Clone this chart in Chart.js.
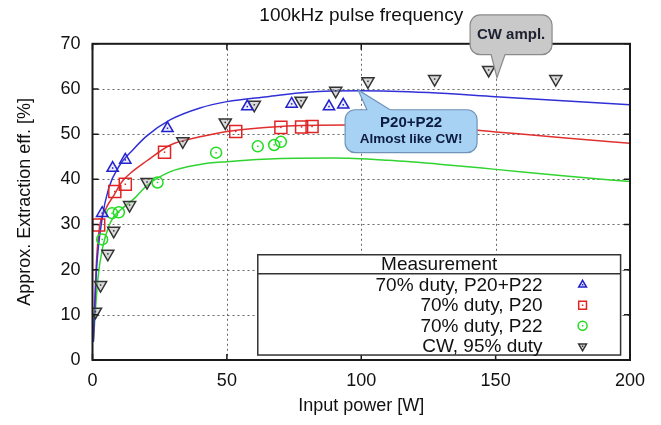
<!DOCTYPE html>
<html>
<head>
<meta charset="utf-8">
<script src="https://cdn.jsdelivr.net/npm/chart.js@4.4.0/dist/chart.umd.min.js"></script>
<style>
  html, body { margin: 0; padding: 0; background: #ffffff; }
</style>
</head>
<body>
<canvas id="effChart" width="661" height="425"></canvas>
<script>
// measured points
const p2022X = [3.6, 7.5, 12.2, 27.9, 57.6, 74.1, 88, 93.3];
const p2022Y = [32.5, 42.5, 44.3, 51.3, 56.1, 56.7, 56.1, 56.5];
const p20X = [2.3, 8.3, 12.2, 26.8, 53.3, 70.1, 77.8, 81.7];
const p20Y = [29.9, 37.3, 38.9, 46, 50.6, 51.5, 51.6, 51.7];
const p22X = [3.6, 7.3, 9.8, 24.2, 46, 61.5, 67.6, 70.1];
const p22Y = [26.7, 32.5, 32.7, 39.3, 45.9, 47.3, 47.6, 48.3];
const cwX = [1.1, 3, 5.7, 7.9, 13.8, 20.3, 33.6, 49.4, 60.2, 77.6, 90.5, 102.5, 127.3, 147.4, 172.4];
const cwY = [10.7, 16.6, 23.5, 28.6, 34.3, 39.4, 48.4, 52.6, 56.5, 57.4, 59.6, 61.7, 62.2, 64.2, 62.2];

// fitted curves
const fit2022X = [0.3, 1.5, 3.5, 6, 10, 15, 20, 29, 40, 50, 65, 80, 100, 125, 150, 175, 200];
const fit2022Y = [4, 20, 31, 38, 43, 46.5, 49.5, 53.2, 55.8, 57.2, 58.3, 59.3, 59.6, 59.2, 58.3, 57.4, 56.5];
const fit20X = [0.3, 1.5, 2.5, 5, 8, 11, 15, 20, 29, 40, 50, 70, 95, 125, 150, 175, 200];
const fit20Y = [4, 22, 29, 33.5, 36.5, 39.5, 41.8, 44, 47.6, 49.4, 50.6, 51.7, 52, 51.8, 50.5, 49.2, 48];
const fit22X = [0.3, 2, 4, 6, 8, 12, 16, 20, 29, 40, 50, 70, 90, 110, 130, 150, 175, 200];
const fit22Y = [4, 18, 25.5, 29.5, 31.8, 34, 36, 38.5, 41.7, 43.3, 43.9, 44.6, 44.7, 44.2, 43.3, 42.2, 40.8, 39.5];

const xTicks = [0, 50, 100, 150, 200];
const yTicks = [0, 10, 20, 30, 40, 50, 60, 70];

const toPts = (xs, ys) => xs.map((x, i) => ({x: x, y: ys[i]}));

// speech bubbles, in data units
const callouts = [
    {lines: ['P20+P22', 'Almost like CW!'], fonts: ['bold 15px "Liberation Sans"', 'bold 13.5px "Liberation Sans"'],
     l: 94, r: 143.1, t: 55.4, b: 45.9, tip: [98.8, 59.8], base: [102.1, 110.7], edge: 'top',
     fill: '#a8d2f4', stroke: '#6f93b8', color: '#0c1c40'},
    {lines: ['CW ampl.'], fonts: ['bold 15px "Liberation Sans"'],
     l: 140.5, r: 171, t: 76.4, b: 67.6, tip: [150.5, 62.5], base: [148.3, 153.5], edge: 'bottom',
     fill: '#c9c9c9', stroke: '#8a8a8a', color: '#1c2030'}
];

const lineDs = (label, xs, ys, color) => ({
    label: label,
    data: toPts(xs, ys),
    showLine: true,
    borderColor: color,
    borderWidth: 1.5,
    pointRadius: 0,
    cubicInterpolationMode: 'monotone',
    order: 2,
    isFit: true
});

const markDs = (label, xs, ys, color, style, radius, rot, fill) => ({
    label: label,
    data: toPts(xs, ys),
    showLine: false,
    borderColor: color,
    backgroundColor: fill,
    pointBorderWidth: 1.5,
    pointStyle: style,
    pointRadius: radius,
    pointRotation: rot,
    order: 1
});

function bubblePath(ctx, c, xs, ys) {
    const l = xs.getPixelForValue(c.l), r = xs.getPixelForValue(c.r);
    const t = ys.getPixelForValue(c.t), b = ys.getPixelForValue(c.b);
    const tx = xs.getPixelForValue(c.tip[0]), ty = ys.getPixelForValue(c.tip[1]);
    const b1 = xs.getPixelForValue(c.base[0]), b2 = xs.getPixelForValue(c.base[1]);
    const rad = 10;
    ctx.beginPath();
    ctx.moveTo(l + rad, t);
    if (c.edge === 'top') {
        ctx.lineTo(b1, t);
        ctx.lineTo(tx, ty);
        ctx.lineTo(b2, t);
    }
    ctx.lineTo(r - rad, t);
    ctx.arcTo(r, t, r, t + rad, rad);
    ctx.lineTo(r, b - rad);
    ctx.arcTo(r, b, r - rad, b, rad);
    if (c.edge === 'bottom') {
        ctx.lineTo(b2, b);
        ctx.lineTo(tx, ty);
        ctx.lineTo(b1, b);
    }
    ctx.lineTo(l + rad, b);
    ctx.arcTo(l, b, l, b - rad, rad);
    ctx.lineTo(l, t + rad);
    ctx.arcTo(l, t, l + rad, t, rad);
    ctx.closePath();
    return {cx: (l + r) / 2, t: t, b: b};
}

const decorPlugin = {
    id: 'decor',
    beforeDatasetsDraw(chart) {
        // dotted grid
        const ctx = chart.ctx;
        const a = chart.chartArea;
        const xs = chart.scales.x, ys = chart.scales.y;
        ctx.save();
        ctx.strokeStyle = '#666666';
        ctx.lineWidth = 1;
        ctx.setLineDash([2, 3]);
        ctx.beginPath();
        xTicks.slice(1, -1).forEach(v => {
            const px = Math.round(xs.getPixelForValue(v)) + 0.5;
            ctx.moveTo(px, a.top); ctx.lineTo(px, a.bottom);
        });
        yTicks.slice(1, -1).forEach(v => {
            const py = Math.round(ys.getPixelForValue(v)) + 0.5;
            ctx.moveTo(a.left, py); ctx.lineTo(a.right, py);
        });
        ctx.stroke();
        ctx.restore();
    },
    afterDatasetsDraw(chart) {
        const ctx = chart.ctx;
        // small centre dots in the markers
        chart.data.datasets.forEach((ds, i) => {
            if (ds.isFit) return;
            ctx.fillStyle = ds.borderColor;
            chart.getDatasetMeta(i).data.forEach(pt => {
                ctx.fillRect(pt.x - 0.75, pt.y - 0.75, 1.5, 1.5);
            });
        });
    },
    afterDraw(chart) {
        const ctx = chart.ctx;
        const a = chart.chartArea;
        const xs = chart.scales.x, ys = chart.scales.y;
        ctx.save();
        // frame
        ctx.strokeStyle = '#1a1a1a';
        ctx.lineWidth = 2;
        ctx.strokeRect(a.left, a.top, a.right - a.left, a.bottom - a.top);
        // inward ticks
        ctx.lineWidth = 1.5;
        ctx.beginPath();
        xTicks.forEach(v => {
            const px = xs.getPixelForValue(v);
            ctx.moveTo(px, a.bottom); ctx.lineTo(px, a.bottom - 6);
            ctx.moveTo(px, a.top); ctx.lineTo(px, a.top + 6);
        });
        yTicks.forEach(v => {
            const py = ys.getPixelForValue(v);
            ctx.moveTo(a.left, py); ctx.lineTo(a.left + 6, py);
            ctx.moveTo(a.right, py); ctx.lineTo(a.right - 6, py);
        });
        ctx.stroke();

        // legend box
        const lx0 = xs.getPixelForValue(61.5), lx1 = xs.getPixelForValue(196.5);
        const ly0 = ys.getPixelForValue(23.3), ly1 = ys.getPixelForValue(1.1);
        ctx.fillStyle = '#ffffff';
        ctx.fillRect(lx0, ly0, lx1 - lx0, ly1 - ly0);
        ctx.strokeStyle = '#333333';
        ctx.lineWidth = 1.5;
        ctx.strokeRect(lx0, ly0, lx1 - lx0, ly1 - ly0);
        const hdr = ly0 + 19;
        ctx.beginPath();
        ctx.moveTo(lx0, hdr); ctx.lineTo(lx1, hdr);
        ctx.stroke();
        ctx.fillStyle = '#111111';
        ctx.font = '19px "Liberation Sans"';
        ctx.textAlign = 'center';
        ctx.textBaseline = 'middle';
        ctx.fillText('Measurement', (lx0 + lx1) / 2, ly0 + 10);
        ctx.textAlign = 'right';
        let row = 0;
        chart.data.datasets.forEach((ds) => {
            if (ds.isFit) return;
            const cy = hdr + 11 + row * 20.5;
            ctx.fillStyle = '#111111';
            ctx.fillText(ds.label, lx1 - 78, cy + 1);
            ctx.strokeStyle = ds.borderColor;
            ctx.fillStyle = ds.backgroundColor;
            ctx.lineWidth = 1.5;
            Chart.helpers.drawPoint(ctx, {
                pointStyle: ds.pointStyle,
                rotation: ds.pointRotation,
                radius: ds.pointStyle === 'rect' ? 5.5 : 4.5,
                borderWidth: 1.5
            }, lx1 - 38, cy);
            ctx.fillStyle = ds.borderColor;
            ctx.fillRect(lx1 - 38.75, cy - 0.75, 1.5, 1.5);
            row++;
        });

        // speech bubbles
        callouts.forEach(c => {
            const box = bubblePath(ctx, c, xs, ys);
            ctx.fillStyle = c.fill;
            ctx.fill();
            ctx.strokeStyle = c.stroke;
            ctx.lineWidth = 1.2;
            ctx.stroke();
            ctx.fillStyle = c.color;
            ctx.textAlign = 'center';
            ctx.textBaseline = 'middle';
            const n = c.lines.length;
            const mid = (box.t + box.b) / 2;
            c.lines.forEach((txt, k) => {
                ctx.font = c.fonts[k];
                ctx.fillText(txt, box.cx, mid + (k - (n - 1) / 2) * 17);
            });
        });
        ctx.restore();
    }
};

new Chart(document.getElementById('effChart'), {
    type: 'scatter',
    data: {
        datasets: [
            markDs('70% duty, P20+P22', p2022X, p2022Y, '#2222cc', 'triangle', 6.5, 0, 'rgba(120,120,230,0.15)'),
            markDs('70% duty, P20', p20X, p20Y, '#e02424', 'rect', 8.5, 0, 'rgba(255,255,255,0)'),
            markDs('70% duty, P22', p22X, p22Y, '#22dd22', 'circle', 5.5, 0, 'rgba(255,255,255,0)'),
            markDs('CW, 95% duty', cwX, cwY, '#333333', 'triangle', 7, 180, 'rgba(170,170,170,0.45)'),
            lineDs('fit P20+P22', fit2022X, fit2022Y, '#3030d8'),
            lineDs('fit P20', fit20X, fit20Y, '#e03030'),
            lineDs('fit P22', fit22X, fit22Y, '#30d430')
        ]
    },
    options: {
        responsive: false,
        animation: false,
        layout: {
            padding: {left: 0, right: 31, top: 0, bottom: 0}
        },
        plugins: {
            legend: { display: false },
            tooltip: { enabled: false },
            title: {
                display: true,
                text: '100kHz pulse frequency',
                fullSize: false,
                color: '#111111',
                font: { family: 'Liberation Sans', size: 19, weight: 'normal' },
                padding: { top: 4, bottom: 17 }
            }
        },
        scales: {
            x: {
                type: 'linear',
                min: 0,
                max: 200,
                afterFit: (scale) => { scale.height = 65; },
                afterBuildTicks: (scale) => { scale.ticks = xTicks.map(v => ({value: v})); },
                grid: { display: false, drawTicks: false },
                border: { display: false },
                ticks: {
                    color: '#111111',
                    padding: 10,
                    font: { family: 'Liberation Sans', size: 18 }
                },
                title: {
                    display: true,
                    text: 'Input power [W]',
                    color: '#111111',
                    font: { family: 'Liberation Sans', size: 18 },
                    padding: { top: 0, bottom: 8 }
                }
            },
            y: {
                type: 'linear',
                min: 0,
                max: 70,
                afterFit: (scale) => { scale.width = 92.5; },
                afterBuildTicks: (scale) => { scale.ticks = yTicks.map(v => ({value: v})); },
                grid: { display: false, drawTicks: false },
                border: { display: false },
                ticks: {
                    color: '#111111',
                    padding: 12,
                    font: { family: 'Liberation Sans', size: 18 }
                },
                title: {
                    display: true,
                    text: 'Approx. Extraction eff. [%]',
                    color: '#111111',
                    font: { family: 'Liberation Sans', size: 18 },
                    padding: { top: 14, bottom: 0 }
                }
            }
        }
    },
    plugins: [decorPlugin]
});
</script>
</body>
</html>
